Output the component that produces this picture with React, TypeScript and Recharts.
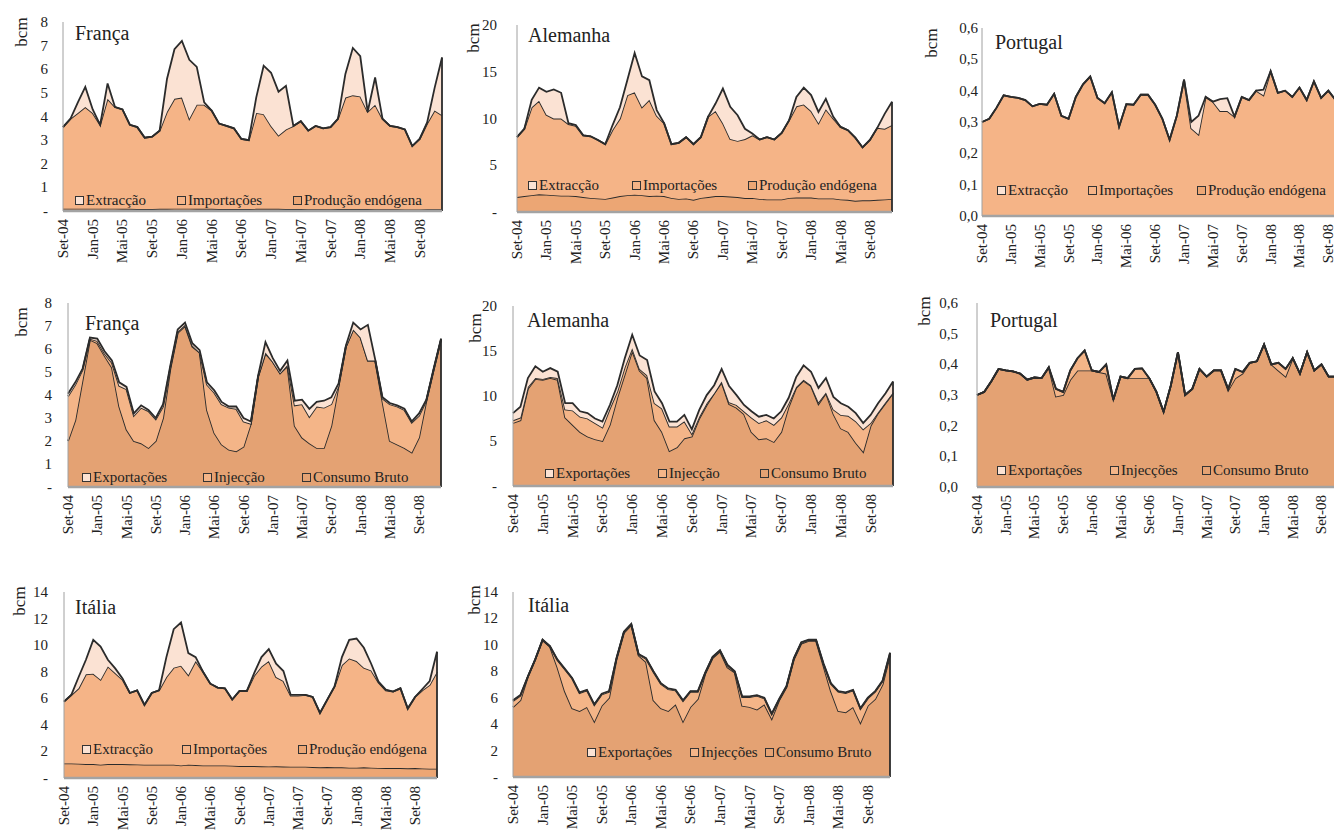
import React from "react";
import { AreaChart, Area, XAxis, YAxis, ReferenceLine } from "recharts";

const months = [
  "Set-04", "Out-04", "Nov-04", "Dez-04",
  "Jan-05", "Fev-05", "Mar-05", "Abr-05", "Mai-05", "Jun-05", "Jul-05", "Ago-05", "Set-05", "Out-05", "Nov-05", "Dez-05",
  "Jan-06", "Fev-06", "Mar-06", "Abr-06", "Mai-06", "Jun-06", "Jul-06", "Ago-06", "Set-06", "Out-06", "Nov-06", "Dez-06",
  "Jan-07", "Fev-07", "Mar-07", "Abr-07", "Mai-07", "Jun-07", "Jul-07", "Ago-07", "Set-07", "Out-07", "Nov-07", "Dez-07",
  "Jan-08", "Fev-08", "Mar-08", "Abr-08", "Mai-08", "Jun-08", "Jul-08", "Ago-08", "Set-08", "Out-08", "Nov-08", "Dez-08",
];

// ---- supply side (bcm) ----
const frProd = [0.1, 0.1, 0.1, 0.1, 0.1, 0.1, 0.1, 0.1, 0.09, 0.09, 0.08, 0.08, 0.08, 0.09, 0.09, 0.1, 0.1, 0.1, 0.09, 0.09, 0.09, 0.08, 0.08, 0.08, 0.08, 0.08, 0.09, 0.09, 0.09, 0.09, 0.08, 0.08, 0.08, 0.07, 0.07, 0.07, 0.07, 0.08, 0.08, 0.08, 0.08, 0.08, 0.07, 0.07, 0.07, 0.07, 0.06, 0.06, 0.06, 0.07, 0.07, 0.07];
const frImp = [3.45, 3.8, 4.05, 4.3, 4.05, 3.55, 4.65, 4.3, 4.21, 3.56, 3.47, 3.02, 3.07, 3.31, 4.11, 4.65, 4.7, 3.8, 4.41, 4.41, 4.16, 3.62, 3.52, 3.42, 2.97, 2.92, 4.06, 4.01, 3.51, 3.11, 3.37, 3.52, 3.72, 3.33, 3.53, 3.43, 3.48, 3.82, 4.72, 4.82, 4.77, 4.12, 4.43, 3.83, 3.53, 3.48, 3.39, 2.69, 2.99, 3.63, 4.18, 3.98];
const frExtr = [0, 0, 0.45, 0.85, 0.15, 0, 0.65, 0, 0, 0, 0, 0, 0, 0, 1.4, 2.1, 2.4, 2.5, 1.6, 0.1, 0, 0, 0, 0, 0, 0, 0.65, 2.05, 2.25, 1.85, 1.85, 0, 0, 0, 0, 0, 0, 0, 1.0, 2.0, 1.7, 0, 1.15, 0, 0, 0, 0, 0, 0, 0.05, 0.95, 2.45];

const deProd = [1.6, 1.7, 1.8, 1.9, 1.85, 1.8, 1.75, 1.75, 1.7, 1.6, 1.5, 1.45, 1.4, 1.55, 1.7, 1.8, 1.85, 1.8, 1.7, 1.75, 1.7, 1.5, 1.4, 1.45, 1.3, 1.5, 1.6, 1.7, 1.7, 1.65, 1.6, 1.5, 1.5, 1.4, 1.35, 1.35, 1.35, 1.5, 1.55, 1.55, 1.55, 1.45, 1.45, 1.45, 1.35, 1.3, 1.2, 1.25, 1.25, 1.3, 1.35, 1.4];
const deImp = [6.4, 7.2, 9.4, 10.0, 8.55, 8.2, 8.25, 7.65, 7.5, 6.6, 6.6, 6.25, 5.85, 7.25, 8.3, 10.7, 10.95, 9.4, 10.3, 8.55, 7.8, 5.75, 6.0, 6.55, 5.95, 6.5, 8.6, 9.1, 7.8, 6.15, 6.0, 6.3, 6.7, 6.35, 6.65, 6.4, 7.1, 8.3, 9.75, 9.95, 9.25, 8.05, 9.55, 8.55, 7.75, 7.45, 6.75, 5.65, 6.45, 7.7, 7.55, 7.9];
const deExtr = [0, 0, 0.8, 1.4, 2.45, 3.1, 2.75, 0.1, 0.1, 0, 0, 0, 0, 0.5, 1.2, 1.6, 4.2, 3.3, 2.1, 0.6, 0, 0, 0, 0, 0, 0, 0, 0.8, 3.7, 3.45, 2.75, 1.1, 0.2, 0, 0, 0, 0, 0, 1.0, 1.8, 1.7, 1.2, 1.1, 0.2, 0, 0, 0, 0, 0, 0, 1.6, 2.5];

const ptProd = [0, 0, 0, 0, 0, 0, 0, 0, 0, 0, 0, 0, 0, 0, 0, 0, 0, 0, 0, 0, 0, 0, 0, 0, 0, 0, 0, 0, 0, 0, 0, 0, 0, 0, 0, 0, 0, 0, 0, 0, 0, 0, 0, 0, 0, 0, 0, 0, 0, 0, 0, 0];
const ptImp = [0.3, 0.31, 0.345, 0.385, 0.38, 0.377, 0.37, 0.35, 0.358, 0.355, 0.39, 0.32, 0.31, 0.38, 0.42, 0.445, 0.377, 0.36, 0.395, 0.285, 0.357, 0.355, 0.387, 0.387, 0.355, 0.31, 0.243, 0.32, 0.435, 0.28, 0.26, 0.38, 0.365, 0.335, 0.335, 0.317, 0.38, 0.37, 0.4, 0.385, 0.462, 0.393, 0.4, 0.38, 0.41, 0.37, 0.43, 0.377, 0.4, 0.37, 0.38, 0.36];
const ptExtr = [0, 0, 0, 0, 0, 0, 0, 0, 0, 0, 0, 0, 0, 0, 0, 0, 0, 0, 0, 0, 0, 0, 0, 0, 0, 0, 0, 0, 0, 0.02, 0.06, 0, 0, 0.038, 0.041, 0, 0, 0, 0, 0.018, 0, 0, 0, 0, 0, 0, 0, 0, 0, 0, 0, 0];

const itProd = [1.1, 1.1, 1.08, 1.05, 1.05, 1.0, 1.05, 1.05, 1.05, 1.03, 1.02, 1.0, 1.0, 1.0, 1.0, 1.0, 0.95, 1.0, 0.97, 0.95, 0.95, 0.95, 0.95, 0.93, 0.9, 0.9, 0.9, 0.88, 0.87, 0.88, 0.86, 0.85, 0.85, 0.85, 0.82, 0.8, 0.82, 0.8, 0.8, 0.78, 0.78, 0.8, 0.78, 0.76, 0.75, 0.75, 0.75, 0.73, 0.75, 0.72, 0.7, 0.7];
const itImp = [4.65, 5.15, 5.67, 6.75, 6.8, 6.4, 7.35, 6.85, 6.35, 5.37, 5.58, 4.5, 5.4, 5.6, 6.6, 7.3, 7.5, 6.75, 7.83, 7.05, 6.15, 5.85, 5.8, 4.97, 5.65, 5.65, 6.8, 7.52, 7.93, 6.72, 6.44, 5.35, 5.35, 5.4, 5.28, 4.1, 5.08, 6.1, 7.7, 8.22, 8.02, 7.5, 7.32, 6.44, 5.85, 5.75, 6.0, 4.47, 5.35, 5.88, 6.3, 7.3];
const itExtr = [0, 0, 0.85, 1.1, 2.55, 2.5, 0.5, 0.35, 0.1, 0, 0, 0, 0, 0, 1.5, 2.9, 3.25, 1.65, 0.3, 0, 0, 0, 0, 0, 0, 0, 0.2, 0.7, 0.9, 1.0, 0.75, 0.05, 0.05, 0, 0, 0, 0, 0, 0.6, 1.4, 1.7, 1.5, 0.5, 0.05, 0.05, 0, 0, 0.05, 0, 0.1, 0.3, 1.5];

// ---- demand side (bcm) ----
const frCons = [2.0, 2.9, 4.65, 6.4, 6.25, 5.7, 5.2, 3.5, 2.5, 2.0, 1.9, 1.7, 2.0, 3.0, 5.15, 6.7, 7.0, 6.1, 5.85, 3.35, 2.35, 1.85, 1.62, 1.55, 1.75, 2.75, 4.8, 5.8, 5.45, 4.95, 5.25, 2.65, 2.15, 1.9, 1.7, 1.7, 2.65, 4.4, 6.1, 6.85, 6.5, 5.5, 5.5, 3.7, 2.0, 1.85, 1.7, 1.5, 2.15, 3.75, 5.1, 6.4];
const frInj = [1.95, 1.55, 0.45, 0.05, 0.1, 0.1, 0.2, 0.9, 1.75, 1.1, 1.55, 1.6, 0.95, 0.5, 0.05, 0.05, 0.05, 0.05, 0, 1.1, 1.75, 1.75, 1.83, 1.85, 1.1, 0, 0, 0.05, 0, 0, 0.05, 0.9, 1.45, 1.15, 1.8, 1.75, 0.95, 0, 0, 0, 0, 0, 0, 0.15, 1.6, 1.65, 1.65, 1.3, 0.95, 0, 0, 0];
const frExp = [0.1, 0.1, 0.05, 0.05, 0.1, 0.1, 0.1, 0.15, 0.1, 0.1, 0.1, 0.05, 0.05, 0.1, 0.1, 0.1, 0.1, 0.1, 0.1, 0.1, 0.1, 0.1, 0.05, 0.1, 0.15, 0.1, 0.05, 0.45, 0.15, 0.1, 0.2, 0.2, 0.2, 0.35, 0.2, 0.3, 0.3, 0.1, 0.05, 0.3, 0.35, 1.55, 0.05, 0.05, 0.05, 0.05, 0.05, 0.05, 0.1, 0.05, 0.05, 0.05];

const deCons = [7.0, 7.3, 10.8, 11.9, 11.8, 12.0, 11.8, 7.6, 6.8, 6.0, 5.5, 5.2, 5.0, 6.8, 9.8, 12.4, 15.0, 12.8, 12.0, 7.3, 6.0, 3.9, 4.3, 5.3, 5.5, 7.5, 9.0, 10.3, 11.5, 9.1, 8.7, 8.0, 6.0, 5.2, 5.3, 4.9, 6.0, 8.8, 10.9, 11.7, 11.1, 9.1, 10.3, 8.0, 6.4, 6.0, 4.8, 3.8, 6.7, 8.1, 9.2, 10.3];
const deInj = [0.3, 0.3, 0.2, 0.1, 0.1, 0.1, 0.2, 0.9, 1.6, 1.7, 2.0, 1.8, 1.5, 1.8, 0.7, 0.8, 0.3, 0.2, 0.3, 1.9, 2.6, 2.7, 2.3, 1.9, 0.3, 0.2, 0.2, 0, 0.1, 0.2, 0.3, 0.3, 1.6, 1.8, 2.0, 1.9, 1.6, 0.4, 0.1, 0.1, 0.1, 0.2, 0.1, 0.5, 1.5, 1.8, 2.4, 2.5, 0.3, 0.1, 0.1, 0.1];
const deExp = [0.8, 1.2, 1.0, 1.3, 0.8, 1.0, 0.7, 0.7, 0.8, 0.6, 0.6, 0.5, 0.65, 0.4, 0.7, 1.0, 1.5, 1.5, 1.7, 1.3, 0.6, 0.55, 0.55, 0.7, 0.5, 0.75, 0.9, 0.9, 1.4, 1.8, 1.1, 0.7, 0.7, 0.7, 0.6, 0.7, 0.7, 0.6, 1.1, 1.6, 1.5, 1.6, 1.6, 1.4, 1.3, 1.0, 0.9, 0.7, 0.9, 1.0, 1.0, 1.2];

const ptCons = [0.3, 0.31, 0.345, 0.385, 0.38, 0.377, 0.37, 0.35, 0.357, 0.355, 0.39, 0.295, 0.3, 0.35, 0.38, 0.38, 0.38, 0.375, 0.37, 0.285, 0.36, 0.355, 0.355, 0.355, 0.355, 0.31, 0.245, 0.33, 0.44, 0.3, 0.32, 0.385, 0.36, 0.38, 0.38, 0.315, 0.355, 0.37, 0.405, 0.41, 0.465, 0.4, 0.38, 0.36, 0.42, 0.37, 0.44, 0.38, 0.4, 0.36, 0.36, 0.37];
const ptInj = [0, 0, 0, 0, 0, 0, 0, 0, 0, 0, 0, 0.025, 0.01, 0.03, 0.04, 0.065, 0, 0, 0.03, 0, 0, 0, 0.03, 0.032, 0, 0, 0, 0, 0, 0, 0, 0, 0, 0, 0, 0.005, 0.03, 0.005, 0, 0, 0, 0, 0.025, 0.025, 0, 0, 0, 0, 0, 0, 0, 0];
const ptExp = [0, 0, 0, 0, 0, 0, 0, 0, 0, 0, 0, 0, 0, 0, 0, 0, 0, 0, 0, 0, 0, 0, 0, 0, 0, 0, 0, 0, 0, 0, 0, 0, 0, 0, 0, 0, 0, 0, 0, 0, 0, 0, 0, 0, 0, 0, 0, 0, 0, 0, 0, 0];

const itCons = [5.3, 5.8, 7.57, 8.87, 10.37, 9.87, 8.3, 6.5, 5.2, 5.0, 5.3, 4.2, 5.4, 6.0, 8.9, 10.9, 11.5, 9.2, 8.7, 5.8, 5.2, 5.0, 5.5, 4.2, 5.3, 5.9, 7.8, 9.0, 9.5, 8.3, 7.9, 5.4, 5.3, 5.1, 5.5, 4.4, 5.8, 6.8, 8.9, 10.1, 10.3, 10.3, 8.4, 6.5, 5.0, 4.9, 5.3, 4.1, 5.4, 5.9, 7.0, 9.2];
const itInj = [0.45, 0.35, 0, 0, 0, 0, 0.55, 1.65, 2.25, 1.35, 1.25, 1.25, 0.85, 0.45, 0.06, 0.06, 0.06, 0.05, 0.25, 2.15, 1.85, 1.65, 1.05, 1.55, 1.15, 0.55, 0.06, 0.06, 0.06, 0.15, 0.05, 0.65, 0.75, 1.05, 0.45, 0.35, 0.05, 0.05, 0.06, 0.06, 0.06, 0.06, 0.15, 0.55, 1.45, 1.45, 1.25, 1.05, 0.55, 0.55, 0.25, 0.15];
const itExp = [0.05, 0.05, 0.03, 0.03, 0.03, 0.03, 0.05, 0.05, 0.05, 0.05, 0.05, 0.05, 0.05, 0.05, 0.04, 0.04, 0.04, 0.05, 0.05, 0.05, 0.05, 0.05, 0.05, 0.05, 0.05, 0.05, 0.04, 0.04, 0.04, 0.05, 0.05, 0.05, 0.05, 0.05, 0.05, 0.05, 0.05, 0.05, 0.04, 0.04, 0.04, 0.04, 0.05, 0.05, 0.05, 0.05, 0.05, 0.05, 0.05, 0.05, 0.05, 0.05];

const ticks8 = [0, 1, 2, 3, 4, 5, 6, 7, 8];
const ticks20 = [0, 5, 10, 15, 20];
const ticksPt = [0, 0.1, 0.2, 0.3, 0.4, 0.5, 0.6];
const ticks14 = [0, 2, 4, 6, 8, 10, 12, 14];

const SERIF = "'Liberation Serif', 'Times New Roman', serif";
const STROKE = "#2b2b2b";
const C_TOP = "#fbe2d3";
const C_MID = "#f5b487";
const C_BOT = "#eca674";
const C_MID2 = "#f4b588";
const C_BOT2 = "#e4a273";

const dashZero = (v: number) => (v === 0 ? "-" : String(v));
const commaFmt = (v: number) => v.toFixed(1).replace(".", ",");

type Series = { key: string; name: string; values: number[]; fill: string };

type PanelProps = {
  title: string;
  x0: number;
  x1: number;
  yTop: number;
  yBot: number;
  yMax: number;
  ticks: number[];
  fmt: (v: number) => string;
  gap: number;
  series: Series[]; // bottom to top
  legendX: number[];
  legendY: number;
  titleX: number;
  titleY: number;
  bcmX: number;
  bcmY: number;
};

const XTick = (props: any) => {
  const { x, y, payload } = props;
  return (
    <text
      x={x}
      y={y}
      transform={`rotate(-90 ${x} ${y})`}
      textAnchor="end"
      dominantBaseline="central"
      style={{ fontFamily: SERIF, fontSize: 15, fill: "#222" }}
    >
      {payload.value}
    </text>
  );
};

const YTick = (props: any) => {
  const { x, y, payload, fmt } = props;
  return (
    <text
      x={x}
      y={y}
      textAnchor="end"
      dominantBaseline="central"
      style={{ fontFamily: SERIF, fontSize: 15, fill: "#222" }}
    >
      {fmt(payload.value)}
    </text>
  );
};

const YW = 60;
const TOPM = 10;
const XH = 60;

function Panel(p: PanelProps) {
  const data = months.map((m, i) => {
    const row: Record<string, any> = { m };
    p.series.forEach((s) => (row[s.key] = s.values[i]));
    return row;
  });
  const last = months.length - 1;
  const lastTotal = p.series.reduce((a, s) => a + s.values[last], 0);
  const legend = [...p.series].reverse();

  return (
    <>
      <div style={{ position: "absolute", left: p.x0 - YW, top: p.yTop - TOPM }}>
        <AreaChart
          width={YW + (p.x1 - p.x0) + 2}
          height={TOPM + (p.yBot - p.yTop) + XH}
          data={data}
          margin={{ top: TOPM, right: 2, left: 0, bottom: 0 }}
        >
          <XAxis
            dataKey="m"
            interval={3}
            height={XH}
            tickLine={false}
            tickSize={6}
            tickMargin={2}
            axisLine={{ stroke: "#a3a3a3", strokeWidth: 2.5 }}
            tick={(tp: any) => <XTick {...tp} />}
          />
          <YAxis
            width={YW}
            domain={[0, p.yMax]}
            ticks={p.ticks}
            interval={0}
            tickLine={false}
            tickSize={p.gap - 2}
            tickMargin={2}
            axisLine={{ stroke: "#a0a0a0" }}
            tick={(tp: any) => <YTick {...tp} fmt={p.fmt} />}
          />
          {p.series.map((s) => (
            <Area
              key={s.key}
              type="linear"
              dataKey={s.key}
              name={s.name}
              stackId="1"
              fill={s.fill}
              fillOpacity={1}
              stroke={STROKE}
              strokeWidth={1.8}
              dot={false}
              activeDot={false}
              isAnimationActive={false}
            />
          ))}
          <ReferenceLine
            segment={[
              { x: months[last], y: 0 },
              { x: months[last], y: lastTotal },
            ]}
            stroke={STROKE}
            strokeWidth={1.8}
          />
        </AreaChart>
      </div>
      <div
        style={{
          position: "absolute",
          left: p.titleX,
          top: p.titleY - 12,
          fontFamily: SERIF,
          fontSize: 20,
          lineHeight: "24px",
          color: "#222",
          whiteSpace: "nowrap",
        }}
      >
        {p.title}
      </div>
      <div
        style={{
          position: "absolute",
          left: p.bcmX,
          top: p.bcmY,
          transform: "translate(-50%, -50%) rotate(-90deg)",
          fontFamily: SERIF,
          fontSize: 17,
          lineHeight: "17px",
          color: "#222",
        }}
      >
        bcm
      </div>
      {legend.map((s, i) => (
        <div
          key={s.key}
          style={{
            position: "absolute",
            left: p.legendX[i],
            top: p.legendY - 9,
            height: 18,
            display: "flex",
            alignItems: "center",
            fontFamily: SERIF,
            fontSize: 15,
            color: "#222",
            whiteSpace: "nowrap",
          }}
        >
          <span
            style={{
              display: "inline-block",
              width: 7,
              height: 7,
              border: "1px solid #333",
              background: s.fill,
              marginRight: 2,
            }}
          />
          {s.name}
        </div>
      ))}
    </>
  );
}

const supply = (prod: number[], imp: number[], extr: number[]): Series[] => [
  { key: "prod", name: "Produção endógena", values: prod, fill: C_BOT },
  { key: "imp", name: "Importações", values: imp, fill: C_MID },
  { key: "extr", name: "Extracção", values: extr, fill: C_TOP },
];

const demand = (cons: number[], inj: number[], exp: number[], injName: string): Series[] => [
  { key: "cons", name: "Consumo Bruto", values: cons, fill: C_BOT2 },
  { key: "inj", name: injName, values: inj, fill: C_MID2 },
  { key: "exp", name: "Exportações", values: exp, fill: C_TOP },
];

export default function App() {
  return (
    <div
      style={{
        position: "absolute",
        left: 0,
        top: 0,
        width: 1334,
        height: 840,
        overflow: "hidden",
        background: "#fff",
      }}
    >
      <Panel
        title="França" x0={63} x1={442} yTop={22} yBot={211} yMax={8} ticks={ticks8} fmt={dashZero} gap={15}
        series={supply(frProd, frImp, frExtr)}
        legendX={[75, 177, 293]} legendY={200} titleX={75} titleY={33} bcmX={21} bcmY={32}
      />
      <Panel
        title="Alemanha" x0={517} x1={892} yTop={25} yBot={212} yMax={20} ticks={ticks20} fmt={dashZero} gap={20}
        series={supply(deProd, deImp, deExtr)}
        legendX={[528, 632, 748]} legendY={185} titleX={528} titleY={35} bcmX={473} bcmY={38}
      />
      <Panel
        title="Portugal" x0={982} x1={1350} yTop={28} yBot={216} yMax={0.6} ticks={ticksPt} fmt={commaFmt} gap={4}
        series={supply(ptProd, ptImp, ptExtr)}
        legendX={[997, 1088, 1197]} legendY={190} titleX={995} titleY={42} bcmX={931} bcmY={43}
      />
      <Panel
        title="França" x0={68} x1={441} yTop={303} yBot={487} yMax={8} ticks={ticks8} fmt={dashZero} gap={16}
        series={demand(frCons, frInj, frExp, "Injecção")}
        legendX={[82, 203, 302]} legendY={477} titleX={85} titleY={323} bcmX={21} bcmY={322}
      />
      <Panel
        title="Alemanha" x0={513} x1={893} yTop={306} yBot={486} yMax={20} ticks={ticks20} fmt={dashZero} gap={16}
        series={demand(deCons, deInj, deExp, "Injecção")}
        legendX={[545, 658, 760]} legendY={473} titleX={527} titleY={320} bcmX={475} bcmY={328}
      />
      <Panel
        title="Portugal" x0={977} x1={1343} yTop={303} yBot={487} yMax={0.6} ticks={ticksPt} fmt={commaFmt} gap={19}
        series={demand(ptCons, ptInj, ptExp, "Injecções")}
        legendX={[997, 1110, 1202]} legendY={470} titleX={990} titleY={320} bcmX={924} bcmY={311}
      />
      <Panel
        title="Itália" x0={64} x1={437} yTop={592} yBot={778} yMax={14} ticks={ticks14} fmt={dashZero} gap={16}
        series={supply(itProd, itImp, itExtr)}
        legendX={[82, 182, 298]} legendY={749} titleX={75} titleY={607} bcmX={19} bcmY={601}
      />
      <Panel
        title="Itália" x0={513} x1={890} yTop={592} yBot={777} yMax={14} ticks={ticks14} fmt={dashZero} gap={15}
        series={demand(itCons, itInj, itExp, "Injecções")}
        legendX={[587, 690, 765]} legendY={752} titleX={528} titleY={605} bcmX={474} bcmY={600}
      />
    </div>
  );
}
